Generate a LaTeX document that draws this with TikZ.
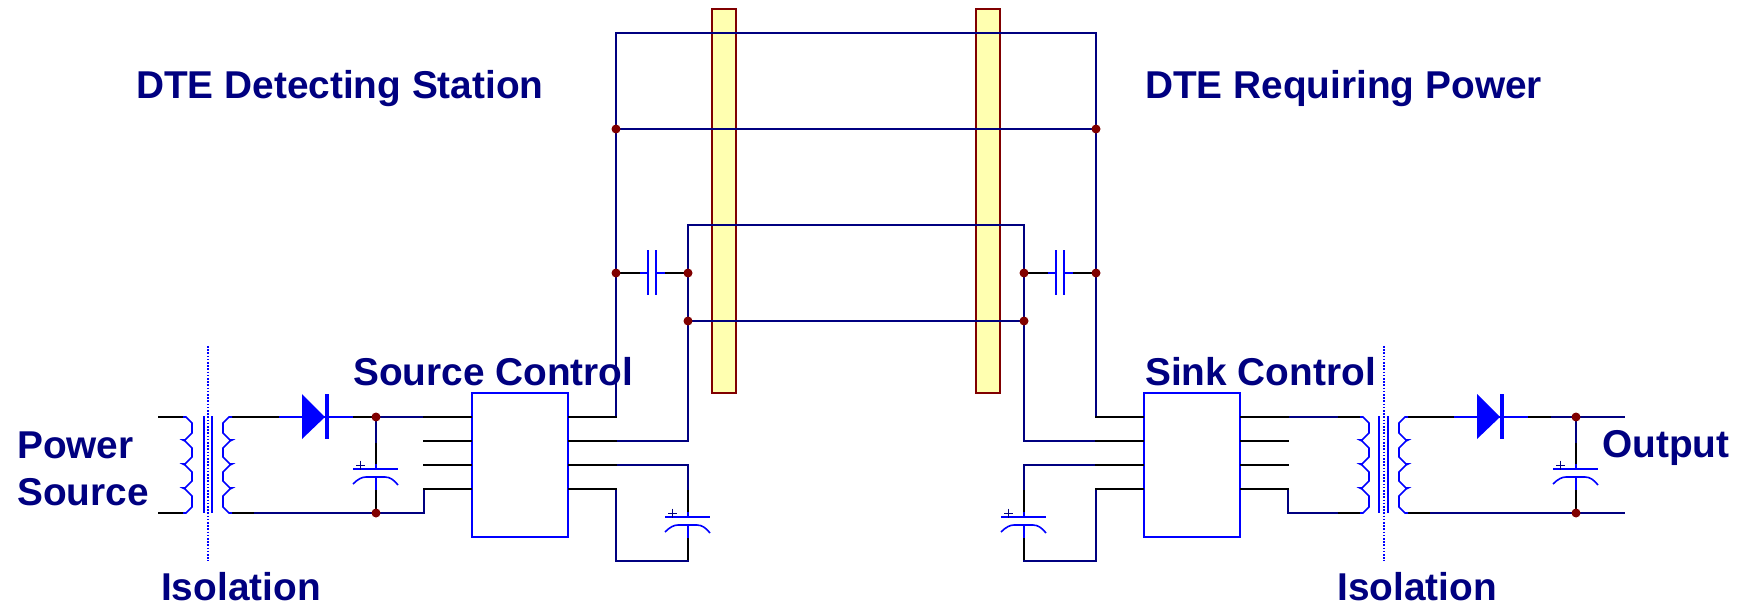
\documentclass[tikz,border=0pt]{standalone}
\usepackage{fontspec}
\setmainfont{Liberation Sans}
\usetikzlibrary{arrows,shapes}
\pgfdeclarelayer{background}
\pgfdeclarelayer{wires}
\pgfsetlayers{background,wires,main}
\definecolor{wirenavy}{RGB}{0,0,128}
\definecolor{partblue}{RGB}{0,0,255}
\definecolor{dotred}{RGB}{128,0,0}
\definecolor{stripyellow}{RGB}{255,255,176}
\tikzstyle{wire} = [draw,black,line width=1.6pt,line cap=rect]
\tikzstyle{bus} = [draw,wirenavy,line width=1.6pt,line cap=rect]
\tikzstyle{part} = [draw,partblue,line width=1.6pt]
\tikzstyle{dot}=[circle,fill=dotred,minimum size=9pt,inner sep=0pt]
\tikzstyle{block}=[draw=partblue,line width=1.6pt,fill=white,minimum width=96pt,minimum height=144pt,inner sep=0pt]
\tikzstyle{strip}=[draw=dotred,line width=1.6pt,fill=stripyellow,minimum width=24pt,minimum height=384pt,inner sep=0pt]
\tikzstyle{label}=[text=wirenavy,font=\fontsize{38.8}{42}\selectfont\bfseries,inner sep=0pt,anchor=base west]
\tikzstyle{isoline}=[draw,partblue,line width=1.6pt,dash pattern=on 1.6pt off 1.6pt]
\tikzset{
  coil/.pic={
    \path[part] (0,0) -- (3,0) -- (9,6) -- (9,16) -- (2,23) -- (0,23) -- (2,24) -- (9,31) -- (9,40) -- (2,47) -- (0,47) -- (2,48) -- (9,55) -- (9,64) -- (2,71) -- (0,71) -- (2,72) -- (9,79) -- (9,90) -- (3,96) -- (0,96);
    \coordinate (-a) at (0,0);
    \coordinate (-b) at (0,96);
  },
  diode/.pic={
    \fill[partblue] (0,-23) -- (23,0) -- (0,22) -- cycle;
    \draw[partblue,line width=3.6pt] (25,-23) -- (25,22);
    \path[part] (-23,0) -- (51,0);
    \coordinate (-a) at (-23,0);
    \coordinate (-k) at (51,0);
  },
  nonpol/.pic={
    \path[part] (-4,-23) -- (-4,22);
    \path[part] (4,-23) -- (4,22);
    \path[part] (-12,0) -- (-4,0);
    \path[part] (4,0) -- (13,0);
    \coordinate (-l) at (-12,0);
    \coordinate (-r) at (13,0);
  },
  polar/.pic={
    \path[part] (-23,0) -- (22,0);
    \path[part] (-23,15) .. controls (-18,10) and (-14,8) .. (-10,8) -- (9,8) .. controls (14,8) and (18,11) .. (22,16);
    \path[part] (0,-5) -- (0,0);
    \path[part] (0,8) -- (0,21);
    \draw[wirenavy,line width=0.7pt] (-20,-4) -- (-11,-4) (-15.5,-8.5) -- (-15.5,0.5);
    \coordinate (-t) at (0,-5);
    \coordinate (-b) at (0,21);
  }
}

\begin{document}
\begin{tikzpicture}[x=1pt,y=-1pt]
    \useasboundingbox (0,0) rectangle (1746,605);

    % Draw the two yellow strips and the control blocks
    \begin{pgfonlayer}{background}
        \node[strip] (stripA) at (724,201) {};
        \node[strip] (stripB) at (988,201) {};
    \end{pgfonlayer}
    \node[block] (srcctl) at (520,465) {};
    \node[block] (snkctl) at (1192,465) {};

    % Now the junction dots
    \foreach \pos/\name in {{(376,417)/ja}, {(376,513)/jb}, {(616,129)/jc}, {(1096,129)/jd}, {(616,273)/je}, {(688,273)/jf}, {(688,321)/jg}, {(1096,273)/jh}, {(1024,273)/ji}, {(1024,321)/jj}, {(1576,417)/jk}, {(1576,513)/jl}}
        \node[dot] (\name) at \pos {};

    % Corners and free ends of the wires
    \foreach \pos/\name in {{(159,417)/ina}, {(159,513)/inb}, {(255,513)/lsb}, {(424,513)/lsc}, {(376,442)/cam}, {(616,33)/tla}, {(1096,33)/tra}, {(688,441)/mla}, {(688,225)/mlt}, {(1024,225)/mrt}, {(1024,441)/mra}, {(688,465)/cla}, {(688,489)/clb}, {(688,561)/cld}, {(616,561)/cle}, {(1024,465)/cra}, {(1024,489)/crb}, {(1024,561)/crc}, {(1096,561)/crd}, {(1337,417)/rsa}, {(1288,513)/rsb}, {(1337,513)/rsc}, {(1431,513)/rsd}, {(1552,417)/rse}, {(1576,442)/rcm}, {(1624,417)/outa}, {(1624,513)/outb}, {(208,346)/isoa}, {(208,561)/isob}, {(1384,346)/isoc}, {(1384,561)/isod}}
        \node[coordinate] (\name) at \pos {};
    \foreach \i/\y in {1/417, 2/441, 3/465, 4/489} {
        \coordinate (sl\i) at (424,\y);
        \coordinate (sr\i) at (616,\y);
        \coordinate (tl\i) at (1096,\y);
        \coordinate (tr\i) at (1288,\y);
        \path[wire] (sl\i) -- (sl\i -| srcctl.west);
        \path[wire] (sr\i) -- (sr\i -| srcctl.east);
        \path[wire] (tl\i) -- (tl\i -| snkctl.west);
        \path[wire] (tr\i) -- (tr\i -| snkctl.east);
    }

    % Transformers, diodes, capacitors
    \pic (coilA) at (183,417) {coil};
    \pic[xscale=-1] (coilB) at (232,417) {coil};
    \pic (coilC) at (1360,417) {coil};
    \pic[xscale=-1] (coilD) at (1408,417) {coil};
    \foreach \x in {204,212,1379,1388}
        \path[part] (\x,416) -- (\x,513);
    \pic (diodeA) at (302,417) {diode};
    \pic (diodeB) at (1477,417) {diode};
    \pic (capC) at (652,273) {nonpol};
    \pic (capD) at (1060,273) {nonpol};
    \pic (capA) at (376,469) {polar};
    \pic (capE) at (688,517) {polar};
    \pic (capF) at (1024,517) {polar};
    \pic (capG) at (1576,469) {polar};
    \path[isoline] (isoa) -- (isob);
    \path[isoline] (isoc) -- (isod);

    % Connect everything, black parts first
    \begin{pgfonlayer}{wires}
    \foreach \source/ \dest in {ina/coilA-a, inb/coilA-b, coilB-a/diodeA-a, diodeA-k/ja, coilB-b/lsb, cam/capA-t, capA-b/jb, je/capC-l, capC-r/jf, ji/capD-l, capD-r/jh, clb/capE-t, capE-b/cld, crb/capF-t, capF-b/crc, rsa/coilC-a, rsc/coilC-b, coilD-a/diodeB-a, diodeB-k/rse, coilD-b/rsd, rcm/capG-t, capG-b/jl}
        \path[wire] (\source) -- (\dest);

    % The navy runs
    \foreach \source/ \dest in {ja/sl1, ja/cam, lsb/lsc, lsc/sl4, sr1/je, je/jc, jc/tla, tla/tra, tra/jd, jd/jh, jh/tl1, jc/jd, sr2/mla, mla/jg, jg/jf, jf/mlt, mlt/mrt, mrt/ji, ji/jj, jj/mra, mra/tl2, jg/jj, sr3/cla, cla/clb, cld/cle, cle/sr4, tl3/cra, cra/crb, crc/crd, crd/tl4, tr1/rsa, tr4/rsb, rsb/rsc, rse/jk, jk/outa, jk/rcm, rsd/jl, jl/outb}
        \path[bus] (\source) -- (\dest);
    \end{pgfonlayer}

    % Labels
    \foreach \pos/\name/\txt in {{(136,98)/lbdet/DTE Detecting Station}, {(1145,98)/lbreq/DTE Requiring Power}, {(353,385)/lbsrc/Source Control}, {(1145,385)/lbsnk/Sink Control}, {(17,458)/lbpow/Power}, {(17,505)/lbsou/Source}, {(1602,457)/lbout/Output}, {(161,600)/lbisa/Isolation}, {(1337,600)/lbisb/Isolation}}
        \node[label] (\name) at \pos {\txt};
\end{tikzpicture}
\end{document}
